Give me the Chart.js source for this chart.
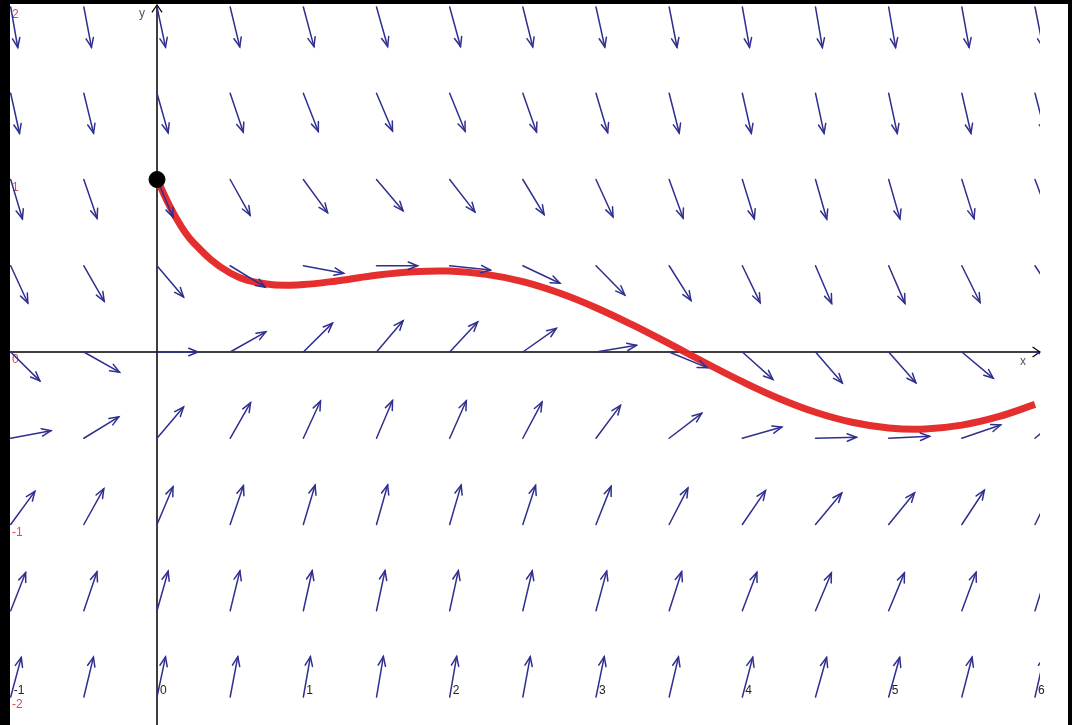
<!DOCTYPE html>
<html>
<head>
<meta charset="utf-8">
<script src="https://cdn.jsdelivr.net/npm/chart.js@4"></script>
<style>
  html, body { margin: 0; padding: 0; background: #000; }
  #wrap { width: 1072px; height: 725px; position: relative; }
</style>
</head>
<body>
<div id="wrap"><canvas id="field"></canvas></div>
<script>
// grid of the direction field (arrow tails)
const xCols = [-1, -0.5, 0, 0.5, 1, 1.5, 2, 2.5, 3, 3.5, 4, 4.5, 5, 5.5, 6];
const yRows = [2, 1.5, 1, 0.5, 0, -0.5, -1, -1.5, -2];

// slope dy/dx read at each grid point, one row per yRows entry
const slopeRows = [
  [-4.84, -4.48, -4.00, -3.52, -3.16, -3.00, -3.09, -3.40, -3.86, -4.35, -4.76, -4.98, -4.96, -4.71, -4.28],
  [-3.84, -3.48, -3.00, -2.52, -2.16, -2.00, -2.09, -2.40, -2.86, -3.35, -3.76, -3.98, -3.96, -3.71, -3.28],
  [-2.84, -2.48, -2.00, -1.52, -1.16, -1.00, -1.09, -1.40, -1.86, -2.35, -2.76, -2.98, -2.96, -2.71, -2.28],
  [-1.84, -1.48, -1.00, -0.52, -0.16, 0.00, -0.09, -0.40, -0.86, -1.35, -1.76, -1.98, -1.96, -1.71, -1.28],
  [-0.84, -0.48, 0.00, 0.48, 0.84, 1.00, 0.91, 0.60, 0.14, -0.35, -0.76, -0.98, -0.96, -0.71, -0.28],
  [0.16, 0.52, 1.00, 1.48, 1.84, 2.00, 1.91, 1.60, 1.14, 0.65, 0.24, 0.02, 0.04, 0.29, 0.72],
  [1.16, 1.52, 2.00, 2.48, 2.84, 3.00, 2.91, 2.60, 2.14, 1.65, 1.24, 1.02, 1.04, 1.29, 1.72],
  [2.16, 2.52, 3.00, 3.48, 3.84, 4.00, 3.91, 3.60, 3.14, 2.65, 2.24, 2.02, 2.04, 2.29, 2.72],
  [3.16, 3.52, 4.00, 4.48, 4.84, 5.00, 4.91, 4.60, 4.14, 3.65, 3.24, 3.02, 3.04, 3.29, 3.72]
];

// solution curve through the start point
const curveX = [0, 0.125, 0.25, 0.5, 0.75, 1, 1.25, 1.5, 1.75, 2, 2.25, 2.5, 2.75, 3, 3.25, 3.5, 3.75, 4, 4.25, 4.5, 4.75, 5, 5.25, 5.5, 5.75, 6];
const curveY = [1.0, 0.786, 0.633, 0.458, 0.394, 0.391, 0.415, 0.445, 0.465, 0.469, 0.450, 0.408, 0.342, 0.257, 0.157, 0.048, -0.064, -0.172, -0.269, -0.349, -0.407, -0.440, -0.446, -0.424, -0.375, -0.304];
const startPoint = { x: 0, y: 1 };

const xTickLabels = ['-1', '0', '1', '2', '3', '4', '5', '6'];
const yTickLabels = ['2', '1', '0', '-1', '-2'];

const ARROW_LEN = 41;
const HEAD_LEN = 10;
const FIELD_RIGHT = 6.034;

function arrowHead(ctx, x, y, ang, len, spread) {
  ctx.beginPath();
  ctx.moveTo(x - len * Math.cos(ang - spread), y - len * Math.sin(ang - spread));
  ctx.lineTo(x, y);
  ctx.lineTo(x - len * Math.cos(ang + spread), y - len * Math.sin(ang + spread));
  ctx.stroke();
}

const backdrop = {
  id: 'backdrop',
  beforeDatasetsDraw(chart) {
    const { ctx, chartArea: a, scales: { x, y } } = chart;
    ctx.save();
    ctx.fillStyle = '#fff';
    ctx.fillRect(a.left, a.top, a.right - a.left, a.bottom - a.top);

    // axes
    const x0 = x.getPixelForValue(0), y0 = y.getPixelForValue(0);
    const xEnd = x.getPixelForValue(FIELD_RIGHT);
    ctx.strokeStyle = '#000';
    ctx.lineWidth = 1.5;
    ctx.beginPath();
    ctx.moveTo(a.left, y0); ctx.lineTo(xEnd, y0);
    ctx.moveTo(x0, a.bottom); ctx.lineTo(x0, a.top + 1);
    ctx.stroke();
    ctx.lineWidth = 1.2;
    arrowHead(ctx, xEnd, y0, 0, 9, 0.6);
    arrowHead(ctx, x0, a.top + 1, -Math.PI / 2, 9, 0.6);

    ctx.font = '12px "Liberation Sans", Arial, sans-serif';
    ctx.fillStyle = '#555';
    ctx.textAlign = 'left';
    ctx.textBaseline = 'top';
    ctx.fillText('x', xEnd - 20, y0 + 4);
    ctx.fillText('y', x0 - 18, a.top + 4);

    // x tick labels along the bottom, right of each tick
    ctx.fillStyle = '#222';
    ctx.textBaseline = 'bottom';
    const yBase = y.getPixelForValue(-2);
    xTickLabels.forEach(t => {
      ctx.fillText(t, x.getPixelForValue(Number(t)) + 3, yBase);
    });
    // y tick labels at the left, below each tick
    ctx.fillStyle = '#e04848';
    ctx.textBaseline = 'top';
    yTickLabels.forEach(t => {
      ctx.fillText(t, a.left + 2, y.getPixelForValue(Number(t)) + 2);
    });
    ctx.restore();
  }
};

const fieldArrows = {
  id: 'fieldArrows',
  afterDatasetDraw(chart, args) {
    if (args.index !== 1) return;
    const { ctx, chartArea: a, scales: { x, y } } = chart;
    ctx.save();
    ctx.beginPath();
    ctx.rect(a.left, a.top, x.getPixelForValue(FIELD_RIGHT) - a.left, a.bottom - a.top);
    ctx.clip();
    ctx.strokeStyle = '#2f2f8f';
    ctx.lineWidth = 1.5;
    ctx.lineCap = 'round';
    yRows.forEach((yv, i) => {
      xCols.forEach((xv, j) => {
        const s = slopeRows[i][j];
        const px = x.getPixelForValue(xv), py = y.getPixelForValue(yv);
        const dx = x.getPixelForValue(xv + 1) - px;
        const dy = y.getPixelForValue(yv + s) - py;
        const ang = Math.atan2(dy, dx);
        const hx = px + ARROW_LEN * Math.cos(ang), hy = py + ARROW_LEN * Math.sin(ang);
        ctx.beginPath();
        ctx.moveTo(px, py);
        ctx.lineTo(hx, hy);
        ctx.stroke();
        arrowHead(ctx, hx, hy, ang, HEAD_LEN, 0.38);
      });
    });
    ctx.restore();
  }
};

new Chart(document.getElementById('field'), {
  type: 'scatter',
  data: {
    datasets: [
      {
        label: 'start',
        data: [startPoint],
        pointRadius: 8,
        pointBackgroundColor: '#000',
        pointBorderColor: '#000'
      },
      {
        label: 'solution',
        type: 'line',
        data: curveX.map((v, i) => ({ x: v, y: curveY[i] })),
        borderColor: 'rgba(228, 36, 36, 0.95)',
        borderWidth: 7,
        pointRadius: 0,
        tension: 0.4,
        fill: false
      }
    ]
  },
  options: {
    responsive: true,
    maintainAspectRatio: false,
    animation: false,
    layout: { autoPadding: false, padding: { left: 10, top: 4, right: 4, bottom: 0 } },
    plugins: { legend: { display: false }, tooltip: { enabled: false } },
    scales: {
      x: { type: 'linear', display: false, min: -1.0046, max: 6.2255 },
      y: { type: 'linear', display: false, min: -2.1623, max: 2.0174 }
    }
  },
  plugins: [backdrop, fieldArrows]
});
</script>
</body>
</html>
